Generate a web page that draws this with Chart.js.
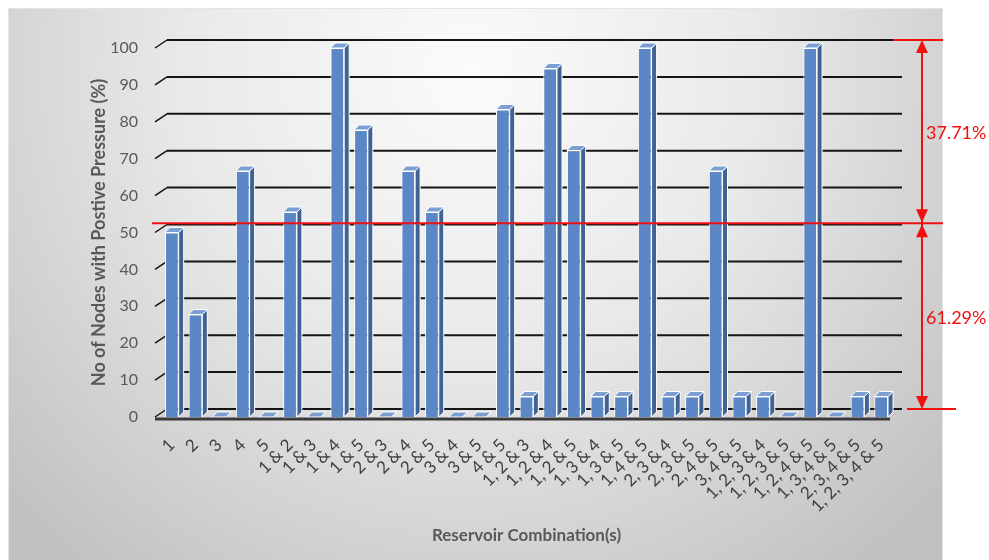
<!DOCTYPE html>
<html>
<head>
<meta charset="utf-8">
<script src="https://cdn.jsdelivr.net/npm/chart.js@4"></script>
<style>
  body { margin: 0; background: #ffffff; }
  #wrap { width: 989px; height: 560px; }
</style>
</head>
<body>
<div id="wrap"><canvas id="myChart" width="989" height="560"></canvas></div>
<script>
// reservoir combinations and % of nodes with positive pressure (18 nodes)
var combos = ['1', '2', '3', '4', '5',
    '1 & 2', '1 & 3', '1 & 4', '1 & 5', '2 & 3', '2 & 4', '2 & 5', '3 & 4', '3 & 5', '4 & 5',
    '1, 2 & 3', '1, 2 & 4', '1, 2 & 5', '1, 3 & 4', '1, 3 & 5', '1, 4 & 5',
    '2, 3 & 4', '2, 3 & 5', '2, 4 & 5', '3, 4 & 5',
    '1, 2, 3 & 4', '1, 2, 3 & 5', '1, 2, 4 & 5', '1, 3, 4 & 5', '2, 3, 4 & 5',
    '1, 2, 3, 4 & 5'];
var positivePressure = [50, 27.78, 0, 66.67, 0,
    55.56, 0, 100, 77.78, 0, 66.67, 55.56, 0, 0, 83.33,
    5.56, 94.44, 72.22, 5.56, 5.56, 100,
    5.56, 5.56, 66.67, 5.56,
    5.56, 0, 100, 0, 5.56,
    5.56];
var yTicks = [0, 10, 20, 30, 40, 50, 60, 70, 80, 90, 100];

// red annotation: split line and the two shares
var splitValue = 52.5;
var upperShare = '37.71%';
var lowerShare = '61.29%';

var depth = 5;      // bar depth
var backX = 7;      // back wall shift
var backY = 8;

Chart.defaults.font.family = 'Lato';

var panel = {
    id: 'panel',
    beforeDraw: function(chart) {
        var c = chart.ctx;
        c.save();
        c.fillStyle = '#ffffff';
        c.fillRect(0, 0, chart.width, chart.height);
        var g = c.createRadialGradient(470, 70, 0, 470, 70, 640);
        g.addColorStop(0, '#fbfbfb');
        g.addColorStop(0.45, '#e9e9e9');
        g.addColorStop(1, '#c0c0c0');
        c.fillStyle = g;
        c.fillRect(8, 8, 935, 552);
        c.strokeStyle = '#e4e4e4';
        c.lineWidth = 1;
        c.strokeRect(8.5, 8.5, 934, 560);
        c.restore();
    }
};

var backWall = {
    id: 'backWall',
    beforeDatasetsDraw: function(chart) {
        var c = chart.ctx;
        var area = chart.chartArea;
        var y = chart.scales.y;
        c.save();
        c.strokeStyle = '#151515';
        yTicks.forEach(function(v) {
            var py = y.getPixelForValue(v);
            c.lineWidth = 2;
            c.beginPath();
            c.moveTo(area.left + backX, py - backY);
            c.lineTo(area.right + backX + 2, py - backY);
            c.stroke();
            c.lineWidth = 1.5;
            c.beginPath();
            c.moveTo(area.left - 5, py);
            c.lineTo(area.left + backX, py - backY);
            c.stroke();
        });
        c.restore();
    }
};

var bars3d = {
    id: 'bars3d',
    afterDatasetsDraw: function(chart) {
        var c = chart.ctx;
        var area = chart.chartArea;
        var meta = chart.getDatasetMeta(0);
        c.save();
        c.strokeStyle = '#ffffff';
        c.lineWidth = 1;
        meta.data.forEach(function(bar) {
            var p = bar.getProps(['x', 'y', 'base', 'width'], true);
            var l = p.x - p.width / 2, r = p.x + p.width / 2;
            // side
            c.fillStyle = '#3f6394';
            c.beginPath();
            c.moveTo(r, p.y);
            c.lineTo(r + depth, p.y - depth);
            c.lineTo(r + depth, p.base - depth);
            c.lineTo(r, p.base);
            c.closePath();
            c.fill();
            c.stroke();
            // top
            c.fillStyle = '#7c9fd3';
            c.beginPath();
            c.moveTo(l, p.y);
            c.lineTo(l + depth, p.y - depth);
            c.lineTo(r + depth, p.y - depth);
            c.lineTo(r, p.y);
            c.closePath();
            c.fill();
            c.stroke();
        });
        // front floor edge
        c.strokeStyle = '#3a3a3a';
        c.lineWidth = 3;
        c.beginPath();
        c.moveTo(area.left - 5, area.bottom + 2);
        c.lineTo(area.right - 3, area.bottom + 2);
        c.stroke();
        c.restore();
    }
};

function arrowHead(c, x, tipY, dir) {
    c.beginPath();
    c.moveTo(x, tipY);
    c.lineTo(x - 6, tipY + dir * 13);
    c.lineTo(x + 6, tipY + dir * 13);
    c.closePath();
    c.fill();
}

var shares = {
    id: 'shares',
    afterDraw: function(chart) {
        var c = chart.ctx;
        var y = chart.scales.y;
        var ySplit = y.getPixelForValue(splitValue);
        var yTop = y.getPixelForValue(100) - backY;
        var yBottom = y.getPixelForValue(0) - backY;
        var ax = 922;
        c.save();
        c.strokeStyle = '#f01010';
        c.fillStyle = '#f01010';
        c.lineWidth = 2;
        c.beginPath();
        c.moveTo(152, ySplit);
        c.lineTo(943, ySplit);
        c.moveTo(893, yTop);
        c.lineTo(943, yTop);
        c.moveTo(907, yBottom);
        c.lineTo(956, yBottom);
        c.moveTo(ax, yTop + 4);
        c.lineTo(ax, yBottom - 4);
        c.stroke();
        arrowHead(c, ax, yTop, 1);
        arrowHead(c, ax, ySplit - 1, -1);
        arrowHead(c, ax, ySplit + 1, 1);
        arrowHead(c, ax, yBottom, -1);
        c.font = '18px Lato';
        c.textBaseline = 'middle';
        c.fillText(upperShare, 926, (yTop + ySplit) / 2 + 2);
        c.fillText(lowerShare, 926, (ySplit + yBottom) / 2 + 2);
        c.restore();
    }
};

var ctx = document.getElementById('myChart').getContext('2d');
var chart = new Chart(ctx, {
    type: 'bar',
    data: {
        labels: combos,
        datasets: [{
            data: positivePressure,
            backgroundColor: '#5b87c6',
            borderColor: '#ffffff',
            borderWidth: 1,
            barPercentage: 0.58,
            categoryPercentage: 1
        }]
    },
    options: {
        responsive: false,
        animation: false,
        layout: { padding: { left: 84, right: 96, top: 48, bottom: 10 } },
        plugins: {
            legend: { display: false },
            tooltip: { enabled: false }
        },
        scales: {
            x: {
                grid: { display: false, drawTicks: false },
                border: { display: false },
                ticks: {
                    autoSkip: false,
                    minRotation: 45,
                    maxRotation: 45,
                    padding: 18,
                    color: '#404040',
                    font: { size: 17 }
                },
                title: {
                    display: true,
                    text: 'Reservoir Combination(s)',
                    color: '#595959',
                    font: { size: 17, weight: 'bold' }
                },
                afterFit: function(s) { s.height = 133; }
            },
            y: {
                min: 0,
                max: 100,
                afterBuildTicks: function(s) {
                    s.ticks = yTicks.map(function(v) { return { value: v }; });
                },
                grid: { display: false, drawTicks: false },
                border: { display: false },
                ticks: { padding: 22, color: '#595959', font: { size: 16 } },
                title: {
                    display: true,
                    text: 'No of Nodes with Postive Pressure (%)',
                    color: '#595959',
                    font: { size: 18, weight: 'bold' }
                },
                afterFit: function(s) { s.width = 76; }
            }
        }
    },
    plugins: [panel, backWall, bars3d, shares]
});
</script>
</body>
</html>
